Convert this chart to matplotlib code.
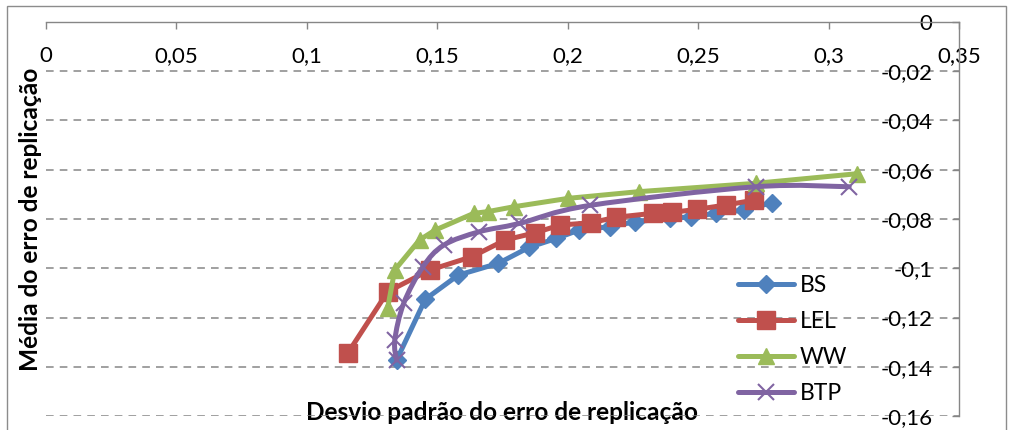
import numpy as np
import matplotlib
matplotlib.use('Agg')
import matplotlib.pyplot as plt
from matplotlib.path import Path
from matplotlib.patches import PathPatch, Rectangle
from matplotlib.lines import Line2D
from matplotlib.ticker import FuncFormatter, MultipleLocator

plt.rcParams['font.family'] = ['Lato', 'DejaVu Sans']

# valores (desvio padrao, media do erro de replicacao)
bs_x = [0.1344, 0.1454, 0.158, 0.1734, 0.1852, 0.1956, 0.2043, 0.2164, 0.2259, 0.2393, 0.2474, 0.2568, 0.2675, 0.2783]
bs_y = [-0.1373, -0.1126, -0.1028, -0.098, -0.0915, -0.0879, -0.0845, -0.0831, -0.0811, -0.0797, -0.0791, -0.0777, -0.0764, -0.0734]

lel_x = [0.1156, 0.131, 0.1472, 0.1633, 0.1761, 0.1875, 0.1969, 0.209, 0.2185, 0.2326, 0.24, 0.2494, 0.2608, 0.2716]
lel_y = [-0.1346, -0.1095, -0.1007, -0.0953, -0.0885, -0.0856, -0.0825, -0.0815, -0.0793, -0.0777, -0.0773, -0.0761, -0.0743, -0.0723]

ww_x = [0.131, 0.1337, 0.1432, 0.1492, 0.164, 0.1694, 0.1795, 0.2003, 0.2272, 0.2722, 0.311]
ww_y = [-0.116, -0.1007, -0.0885, -0.0845, -0.0777, -0.077, -0.075, -0.0716, -0.0689, -0.0655, -0.0616]

btp_x = [0.1344, 0.1337, 0.1371, 0.1445, 0.1525, 0.166, 0.1815, 0.2084, 0.2722, 0.3079]
btp_y = [-0.1373, -0.1292, -0.1143, -0.0994, -0.0906, -0.0852, -0.0818, -0.0745, -0.0669, -0.0669]

labels = ['BS', 'LEL', 'WW', 'BTP']
x_label = 'Desvio padrão do erro de replicação'
y_label = 'Média do erro de replicação'

BLUE = '#4F81BD'
RED = '#C0504D'
GREEN = '#9BBB59'
PURPLE = '#8064A2'
GRAY = '#868686'
FS = 16
FS_TITLE = 17.6
LW = 3.6


def excel_smooth(xs, ys):
    # curva suavizada tipo Excel (bezier de Catmull-Rom)
    p = np.column_stack([xs, ys])
    n = len(p)
    verts = [p[0]]
    codes = [Path.MOVETO]
    for i in range(n - 1):
        p0 = p[max(i - 1, 0)]
        p1 = p[i]
        p2 = p[i + 1]
        p3 = p[min(i + 2, n - 1)]
        verts += [p1 + (p2 - p0) / 6, p2 - (p3 - p1) / 6, p2]
        codes += [Path.CURVE4] * 3
    return Path(verts, codes)


def fmt(v, pos):
    if abs(v) < 1e-9:
        return '0'
    return ('%g' % round(v, 4)).replace('.', ',')


fig = plt.figure(figsize=(10.09, 4.30), dpi=100)
ax = fig.add_axes([46 / 1009, 1 - 416 / 430, (959 - 46) / 1009, (416 - 22) / 430])

line_kw = dict(lw=LW, solid_joinstyle='round', solid_capstyle='round', mew=1, zorder=2)
h_bs, = ax.plot(bs_x, bs_y, color=BLUE, marker='D', ms=9.5, mec=BLUE, **line_kw)
h_lel, = ax.plot(lel_x, lel_y, color=RED, marker='s', ms=13, mec=RED, **line_kw)
h_ww, = ax.plot(ww_x, ww_y, color=GREEN, marker='^', ms=12, mec=GREEN, **line_kw)

ax.add_patch(PathPatch(excel_smooth(btp_x, btp_y), facecolor='none', edgecolor=PURPLE,
                       lw=LW, capstyle='round', joinstyle='round', zorder=2))
ax.plot(btp_x, btp_y, linestyle='none', marker='x', ms=11.5, mew=1.5, color=PURPLE, zorder=2)
h_btp = Line2D([], [], color=PURPLE, lw=LW, solid_capstyle='round', marker='x', ms=11.5, mew=1.5)

ax.set_xlim(0, 0.35)
ax.set_ylim(-0.16, 0)
ax.xaxis.set_major_locator(MultipleLocator(0.05))
ax.yaxis.set_major_locator(MultipleLocator(0.02))
ax.xaxis.set_major_formatter(FuncFormatter(fmt))
ax.yaxis.set_major_formatter(FuncFormatter(fmt))

ax.xaxis.tick_top()
ax.yaxis.tick_right()
ax.tick_params(axis='x', direction='in', length=5, width=1, color=GRAY, pad=-24.5, labelsize=FS)
ax.tick_params(axis='y', direction='in', length=5, width=1, color=GRAY, pad=-19, labelsize=FS)
for t in ax.get_xticklabels():
    t.set_va('center')
for t in ax.get_yticklabels():
    t.set_ha('right')

for s in ['left', 'bottom']:
    ax.spines[s].set_visible(False)
for s in ['top', 'right']:
    ax.spines[s].set_color(GRAY)
    ax.spines[s].set_linewidth(1)

ax.grid(axis='y', color=GRAY, linestyle=(0, (5, 4)), linewidth=1.1)
ax.set_axisbelow(True)

ax.set_xlabel(x_label, fontsize=FS_TITLE, fontweight='bold')
ax.xaxis.set_label_coords(0.5, (416 - 413) / 394)
ax.xaxis.label.set_va('center')
ax.set_ylabel(y_label, fontsize=FS_TITLE, fontweight='bold')
ax.yaxis.set_label_coords((31 - 46) / 913, 0.5)
ax.yaxis.label.set_va('center')

fig.legend([h_bs, h_lel, h_ww, h_btp], labels, loc='upper left',
           bbox_to_anchor=(738 / 1009, 1 - 275 / 430), frameon=False, fontsize=16.5,
           handlelength=2.45, handletextpad=0.25, labelspacing=0.66,
           borderpad=0, borderaxespad=0)

fig.patches.append(Rectangle((7 / 1009, -0.05), (1006 - 7) / 1009, 1 - 6 / 430 + 0.05,
                             transform=fig.transFigure, fill=False, edgecolor='#8c8c8c', lw=1))

fig.savefig('out.png', dpi=100)
